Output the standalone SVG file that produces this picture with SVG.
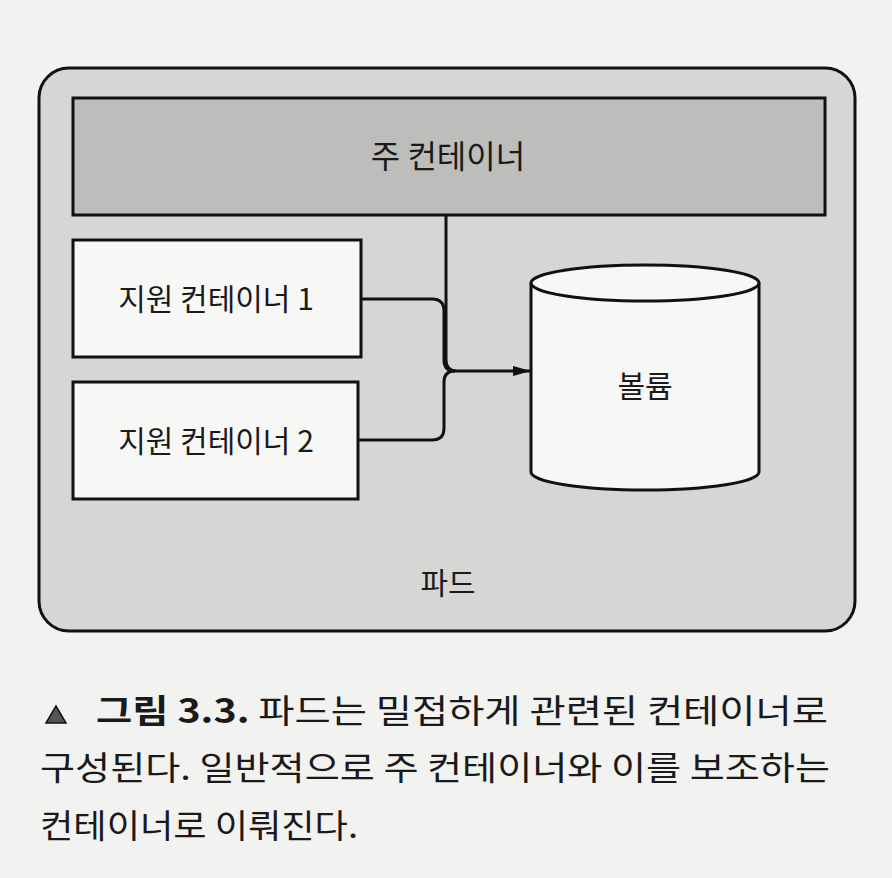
<svg xmlns="http://www.w3.org/2000/svg" width="892" height="878" viewBox="0 0 892 878">
<style>
.t{font-family:"Noto Sans CJK KR","Noto Sans",sans-serif;fill:#1a1a1a}
.box{stroke:#111;stroke-width:3}
.c{fill:none;stroke:#111;stroke-width:3}
</style>
<defs>
<marker id="ah" markerWidth="18" markerHeight="12" refX="17" refY="6" orient="auto" markerUnits="userSpaceOnUse" viewBox="0 0 18 12">
<path d="M0,1 L18,6 L0,11 z" fill="#111"/>
</marker>
</defs>
<rect width="892" height="878" fill="#f2f2f1"/>
<g id="pod">
<rect class="box" x="39" y="68" width="816" height="563" rx="30" fill="#d6d6d5"/>
<text class="t" x="448" y="594" font-size="30" text-anchor="middle">파드</text>
</g>
<g id="main">
<rect class="box" x="73" y="98" width="752" height="117" fill="#bdbdbc"/>
<text class="t" x="448" y="168" font-size="32" text-anchor="middle">주 컨테이너</text>
</g>
<g id="sup1">
<rect class="box" x="73" y="240" width="288" height="117" fill="#f7f7f6"/>
<text class="t" x="216" y="310" font-size="30" text-anchor="middle">지원 컨테이너 1</text>
</g>
<g id="sup2">
<rect class="box" x="73" y="382" width="285" height="117" fill="#f7f7f6"/>
<text class="t" x="216" y="452" font-size="30" text-anchor="middle">지원 컨테이너 2</text>
</g>
<g id="volume">
<path class="box" d="M531,283 A114,18 0 0 1 759,283 L759,472 A114,18 0 0 1 531,472 Z" fill="#f7f7f6"/>
<path class="c" d="M531,283 A114,18 0 0 0 759,283"/>
<text class="t" x="645" y="397" font-size="30" text-anchor="middle">볼륨</text>
</g>
<g id="connectors">
<path class="c" d="M446,215 L446,360 Q446,371 457,371 L530,371" marker-end="url(#ah)"/>
<path class="c" d="M361,299 L432,299 Q444,299 444,311 L444,360 Q444,371 455,371"/>
<path class="c" d="M358,440 L432,440 Q444,440 444,428 L444,382 Q444,371 455,371"/>
</g>
<g id="caption">
<polygon points="46,723 56,706 66,723" fill="#555" stroke="#111" stroke-width="1.5"/>
<text class="t" x="96" y="723" font-size="33" textLength="732" lengthAdjust="spacingAndGlyphs"><tspan font-weight="bold">그림 3.3.</tspan> 파드는 밀접하게 관련된 컨테이너로</text>
<text class="t" x="40" y="780" font-size="33" textLength="790" lengthAdjust="spacingAndGlyphs">구성된다. 일반적으로 주 컨테이너와 이를 보조하는</text>
<text class="t" x="40" y="838" font-size="33" textLength="318" lengthAdjust="spacingAndGlyphs">컨테이너로 이뤄진다.</text>
</g>
</svg>
